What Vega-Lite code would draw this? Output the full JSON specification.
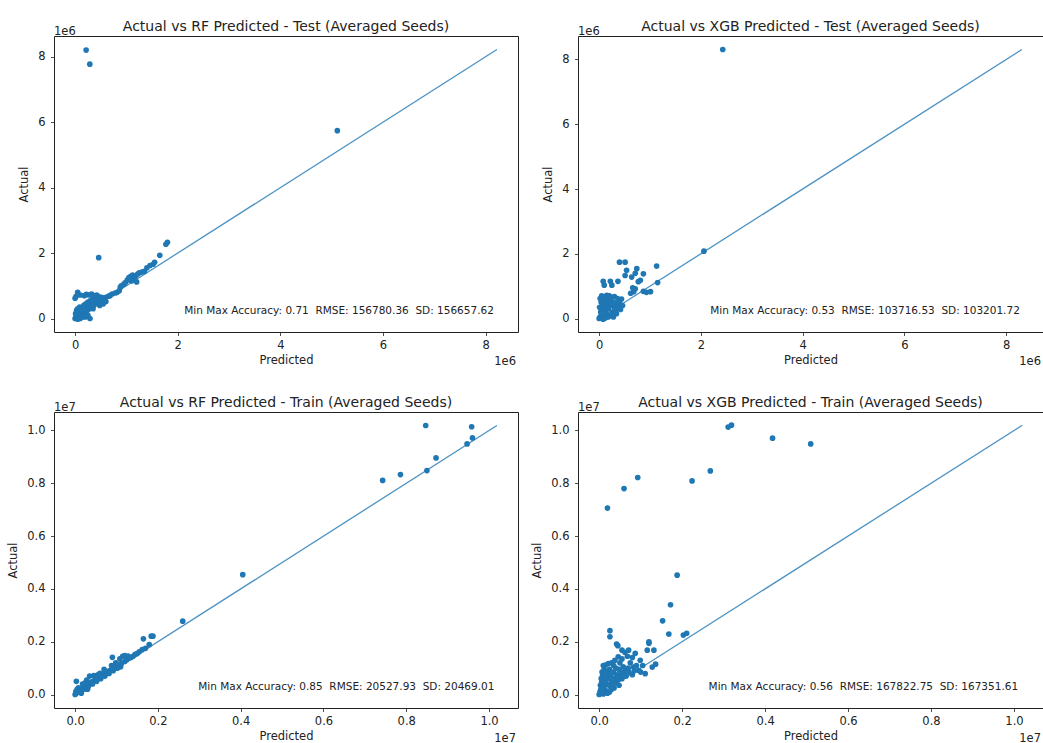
{
  "$schema": "https://vega.github.io/schema/vega-lite/v6.json",
  "background": "white",
  "padding": {"left": 7, "top": 19, "right": 0, "bottom": 0},
  "autosize": {"type": "pad"},
  "bounds": "flush",
  "columns": 2,
  "spacing": {"row": 80, "column": 60},
  "datasets": {
    "rf_test": [
      {"predicted": 215000, "actual": 8200000}, {"predicted": 287000, "actual": 7770000}, {"predicted": 5110000, "actual": 5740000}, {"predicted": 460000, "actual": 1860000},
      {"predicted": 1800000, "actual": 2330000}, {"predicted": 1770000, "actual": 2270000}, {"predicted": 1650000, "actual": 1930000},
      {"predicted": 1550000, "actual": 1720000}, {"predicted": 1520000, "actual": 1660000}, {"predicted": 1460000, "actual": 1620000}, {"predicted": 1400000, "actual": 1550000},
      {"predicted": 1350000, "actual": 1440000}, {"predicted": 1300000, "actual": 1420000}, {"predicted": 1250000, "actual": 1400000}, {"predicted": 1220000, "actual": 1360000},
      {"predicted": 1180000, "actual": 1300000}, {"predicted": 1120000, "actual": 1330000}, {"predicted": 1080000, "actual": 1280000}, {"predicted": 1050000, "actual": 1250000},
      {"predicted": 1150000, "actual": 1200000}, {"predicted": 1200000, "actual": 1120000}, {"predicted": 1100000, "actual": 1150000}, {"predicted": 1020000, "actual": 1180000},
      {"predicted": 980000, "actual": 1100000}, {"predicted": 950000, "actual": 1050000}, {"predicted": 900000, "actual": 1000000}, {"predicted": 880000, "actual": 950000},
      {"predicted": 860000, "actual": 850000}, {"predicted": 820000, "actual": 800000}, {"predicted": 780000, "actual": 780000}, {"predicted": 720000, "actual": 750000},
      {"predicted": 680000, "actual": 700000}, {"predicted": 650000, "actual": 680000}, {"predicted": 600000, "actual": 650000}, {"predicted": 580000, "actual": 620000},
      {"predicted": 550000, "actual": 580000}, {"predicted": 520000, "actual": 650000}, {"predicted": 500000, "actual": 550000}, {"predicted": 480000, "actual": 600000},
      {"predicted": 450000, "actual": 500000}, {"predicted": 420000, "actual": 550000}, {"predicted": 400000, "actual": 450000}, {"predicted": 380000, "actual": 500000},
      {"predicted": 360000, "actual": 400000}, {"predicted": 340000, "actual": 450000}, {"predicted": 320000, "actual": 350000}, {"predicted": 300000, "actual": 420000},
      {"predicted": 280000, "actual": 300000}, {"predicted": 260000, "actual": 380000}, {"predicted": 240000, "actual": 250000}, {"predicted": 220000, "actual": 320000},
      {"predicted": 200000, "actual": 200000}, {"predicted": 180000, "actual": 280000}, {"predicted": 160000, "actual": 150000}, {"predicted": 140000, "actual": 220000},
      {"predicted": 120000, "actual": 100000}, {"predicted": 100000, "actual": 180000}, {"predicted": 80000, "actual": 50000}, {"predicted": 60000, "actual": 120000},
      {"predicted": 40000, "actual": 20000}, {"predicted": 20000, "actual": 80000}, {"predicted": 0, "actual": 0}, {"predicted": 10000, "actual": 150000},
      {"predicted": 30000, "actual": 250000}, {"predicted": 50000, "actual": 300000}, {"predicted": 90000, "actual": 350000}, {"predicted": 130000, "actual": 300000},
      {"predicted": 170000, "actual": 400000}, {"predicted": 210000, "actual": 450000}, {"predicted": 250000, "actual": 500000}, {"predicted": 300000, "actual": 550000},
      {"predicted": 350000, "actual": 600000}, {"predicted": 400000, "actual": 650000}, {"predicted": 450000, "actual": 680000},
      {"predicted": 0, "actual": 620000}, {"predicted": 20000, "actual": 680000}, {"predicted": 50000, "actual": 800000}, {"predicted": 100000, "actual": 720000},
      {"predicted": 180000, "actual": 700000}, {"predicted": 220000, "actual": 740000}, {"predicted": 270000, "actual": 720000}, {"predicted": 320000, "actual": 750000},
      {"predicted": 360000, "actual": 700000}, {"predicted": 420000, "actual": 720000},
      {"predicted": 100000, "actual": 0}, {"predicted": 200000, "actual": 50000}, {"predicted": 290000, "actual": 0}, {"predicted": 250000, "actual": 100000},
      {"predicted": 350000, "actual": 300000}, {"predicted": 150000, "actual": 50000}, {"predicted": 50000, "actual": -20000}, {"predicted": 550000, "actual": 450000},
      {"predicted": 600000, "actual": 520000}, {"predicted": 480000, "actual": 400000}
    ],
    "rf_test_line": [{"predicted": 0, "actual": 0}, {"predicted": 8220000, "actual": 8220000}],
    "rf_test_text": [{"label": "Min Max Accuracy: 0.71 \u00a0RMSE: 156780.36 \u00a0SD: 156657.62"}],
    "xgb_test": [
      {"predicted": 2430000, "actual": 8310000}, {"predicted": 2060000, "actual": 2080000}, {"predicted": 1130000, "actual": 1620000}, {"predicted": 1150000, "actual": 1110000},
      {"predicted": 400000, "actual": 1740000}, {"predicted": 510000, "actual": 1740000}, {"predicted": 540000, "actual": 1490000}, {"predicted": 510000, "actual": 1330000},
      {"predicted": 740000, "actual": 1540000}, {"predicted": 710000, "actual": 1400000}, {"predicted": 870000, "actual": 1380000}, {"predicted": 810000, "actual": 1180000},
      {"predicted": 770000, "actual": 1140000}, {"predicted": 640000, "actual": 1280000}, {"predicted": 80000, "actual": 1150000}, {"predicted": 100000, "actual": 1030000},
      {"predicted": 220000, "actual": 1150000}, {"predicted": 250000, "actual": 1030000}, {"predicted": 370000, "actual": 1150000}, {"predicted": 710000, "actual": 920000},
      {"predicted": 680000, "actual": 830000}, {"predicted": 620000, "actual": 780000}, {"predicted": 870000, "actual": 840000}, {"predicted": 930000, "actual": 810000},
      {"predicted": 1010000, "actual": 830000}, {"predicted": 660000, "actual": 950000},
      {"predicted": 0, "actual": 0}, {"predicted": 20000, "actual": 50000}, {"predicted": 50000, "actual": 100000}, {"predicted": 30000, "actual": 200000},
      {"predicted": 60000, "actual": 300000}, {"predicted": 10000, "actual": 350000}, {"predicted": 80000, "actual": 400000}, {"predicted": 40000, "actual": 500000},
      {"predicted": 20000, "actual": 620000}, {"predicted": 100000, "actual": 620000}, {"predicted": 120000, "actual": 550000}, {"predicted": 150000, "actual": 450000},
      {"predicted": 100000, "actual": 250000}, {"predicted": 140000, "actual": 150000}, {"predicted": 180000, "actual": 300000}, {"predicted": 200000, "actual": 400000},
      {"predicted": 220000, "actual": 550000}, {"predicted": 250000, "actual": 650000}, {"predicted": 280000, "actual": 500000}, {"predicted": 300000, "actual": 350000},
      {"predicted": 320000, "actual": 250000}, {"predicted": 350000, "actual": 450000}, {"predicted": 380000, "actual": 550000}, {"predicted": 400000, "actual": 350000},
      {"predicted": 420000, "actual": 280000}, {"predicted": 440000, "actual": 600000}, {"predicted": 300000, "actual": 680000}, {"predicted": 200000, "actual": 700000},
      {"predicted": 150000, "actual": 720000}, {"predicted": 260000, "actual": 200000}, {"predicted": 220000, "actual": 100000}, {"predicted": 180000, "actual": 50000},
      {"predicted": 120000, "actual": 20000}, {"predicted": 80000, "actual": -20000}, {"predicted": 280000, "actual": 50000}, {"predicted": 360000, "actual": 620000},
      {"predicted": 50000, "actual": 700000}, {"predicted": 160000, "actual": 620000}, {"predicted": 240000, "actual": 400000}, {"predicted": 340000, "actual": 150000},
      {"predicted": 400000, "actual": 500000}, {"predicted": 460000, "actual": 400000}, {"predicted": 120000, "actual": 350000}, {"predicted": 60000, "actual": 150000}
    ],
    "xgb_test_line": [{"predicted": 0, "actual": 0}, {"predicted": 8310000, "actual": 8310000}],
    "xgb_test_text": [{"label": "Min Max Accuracy: 0.53 \u00a0RMSE: 103716.53 \u00a0SD: 103201.72"}],
    "rf_train": [
      {"predicted": 8470000, "actual": 10190000}, {"predicted": 9580000, "actual": 10140000}, {"predicted": 9600000, "actual": 9720000}, {"predicted": 9470000, "actual": 9490000},
      {"predicted": 8720000, "actual": 8960000}, {"predicted": 8500000, "actual": 8480000}, {"predicted": 7860000, "actual": 8330000}, {"predicted": 7430000, "actual": 8110000},
      {"predicted": 4050000, "actual": 4540000}, {"predicted": 2600000, "actual": 2780000}, {"predicted": 1840000, "actual": 2210000}, {"predicted": 1880000, "actual": 2210000},
      {"predicted": 1650000, "actual": 2110000}, {"predicted": 1790000, "actual": 1890000}, {"predicted": 900000, "actual": 1410000}, {"predicted": 30000, "actual": 500000},
      {"predicted": 1700000, "actual": 1750000}, {"predicted": 1620000, "actual": 1700000}, {"predicted": 1550000, "actual": 1620000}, {"predicted": 1500000, "actual": 1550000},
      {"predicted": 1450000, "actual": 1520000}, {"predicted": 1400000, "actual": 1450000}, {"predicted": 1350000, "actual": 1400000}, {"predicted": 1300000, "actual": 1380000},
      {"predicted": 1250000, "actual": 1320000}, {"predicted": 1200000, "actual": 1480000}, {"predicted": 1150000, "actual": 1450000}, {"predicted": 1280000, "actual": 1460000},
      {"predicted": 1200000, "actual": 1250000}, {"predicted": 1120000, "actual": 1180000}, {"predicted": 1050000, "actual": 1120000}, {"predicted": 1000000, "actual": 1080000},
      {"predicted": 950000, "actual": 1020000}, {"predicted": 900000, "actual": 980000}, {"predicted": 850000, "actual": 920000}, {"predicted": 800000, "actual": 880000},
      {"predicted": 750000, "actual": 820000}, {"predicted": 700000, "actual": 950000}, {"predicted": 700000, "actual": 780000}, {"predicted": 650000, "actual": 720000},
      {"predicted": 600000, "actual": 680000}, {"predicted": 550000, "actual": 620000}, {"predicted": 500000, "actual": 580000}, {"predicted": 450000, "actual": 720000},
      {"predicted": 450000, "actual": 520000}, {"predicted": 400000, "actual": 480000}, {"predicted": 350000, "actual": 700000}, {"predicted": 350000, "actual": 420000},
      {"predicted": 300000, "actual": 380000}, {"predicted": 280000, "actual": 550000}, {"predicted": 250000, "actual": 320000}, {"predicted": 200000, "actual": 280000},
      {"predicted": 180000, "actual": 400000}, {"predicted": 150000, "actual": 220000}, {"predicted": 100000, "actual": 150000}, {"predicted": 80000, "actual": 250000},
      {"predicted": 50000, "actual": 80000}, {"predicted": 20000, "actual": 40000}, {"predicted": 0, "actual": 0}, {"predicted": 120000, "actual": 100000},
      {"predicted": 220000, "actual": 200000}, {"predicted": 320000, "actual": 300000}, {"predicted": 420000, "actual": 400000}, {"predicted": 520000, "actual": 500000},
      {"predicted": 620000, "actual": 600000}, {"predicted": 720000, "actual": 700000}, {"predicted": 820000, "actual": 800000}, {"predicted": 920000, "actual": 900000},
      {"predicted": 1020000, "actual": 1000000}, {"predicted": 1100000, "actual": 1050000}, {"predicted": 550000, "actual": 750000}, {"predicted": 600000, "actual": 800000},
      {"predicted": 880000, "actual": 1100000}, {"predicted": 980000, "actual": 1200000}, {"predicted": 1080000, "actual": 1350000}, {"predicted": 150000, "actual": 50000},
      {"predicted": 300000, "actual": 200000}, {"predicted": 50000, "actual": 200000}, {"predicted": 20000, "actual": 120000}, {"predicted": 250000, "actual": 450000}
    ],
    "rf_train_line": [{"predicted": 0, "actual": 0}, {"predicted": 10190000, "actual": 10190000}],
    "rf_train_text": [{"label": "Min Max Accuracy: 0.85 \u00a0RMSE: 20527.93 \u00a0SD: 20469.01"}],
    "xgb_train": [
      {"predicted": 3110000, "actual": 10130000}, {"predicted": 3190000, "actual": 10200000}, {"predicted": 4180000, "actual": 9710000}, {"predicted": 5100000, "actual": 9490000},
      {"predicted": 2680000, "actual": 8470000}, {"predicted": 2240000, "actual": 8090000}, {"predicted": 930000, "actual": 8220000}, {"predicted": 600000, "actual": 7800000},
      {"predicted": 200000, "actual": 7060000}, {"predicted": 1880000, "actual": 4520000}, {"predicted": 1720000, "actual": 3400000}, {"predicted": 1530000, "actual": 2790000},
      {"predicted": 1680000, "actual": 2290000}, {"predicted": 2030000, "actual": 2250000}, {"predicted": 2110000, "actual": 2320000}, {"predicted": 260000, "actual": 2420000},
      {"predicted": 260000, "actual": 2190000}, {"predicted": 1200000, "actual": 1940000},
      {"predicted": 420000, "actual": 1910000}, {"predicted": 450000, "actual": 1850000}, {"predicted": 1200000, "actual": 2000000}, {"predicted": 1160000, "actual": 1680000},
      {"predicted": 1320000, "actual": 1680000}, {"predicted": 1280000, "actual": 1040000}, {"predicted": 1360000, "actual": 1150000}, {"predicted": 1110000, "actual": 790000},
      {"predicted": 870000, "actual": 1560000}, {"predicted": 710000, "actual": 1680000}, {"predicted": 550000, "actual": 1680000}, {"predicted": 620000, "actual": 1600000},
      {"predicted": 460000, "actual": 1430000}, {"predicted": 380000, "actual": 1300000}, {"predicted": 220000, "actual": 1170000}, {"predicted": 100000, "actual": 1100000},
      {"predicted": 150000, "actual": 1120000}, {"predicted": 630000, "actual": 920000}, {"predicted": 830000, "actual": 1040000}, {"predicted": 950000, "actual": 920000},
      {"predicted": 990000, "actual": 1300000}, {"predicted": 800000, "actual": 1400000}, {"predicted": 750000, "actual": 1200000}, {"predicted": 680000, "actual": 1450000},
      {"predicted": 900000, "actual": 1100000}, {"predicted": 1050000, "actual": 1100000}, {"predicted": 1000000, "actual": 850000}, {"predicted": 550000, "actual": 1350000},
      {"predicted": 500000, "actual": 1200000}, {"predicted": 580000, "actual": 1050000}, {"predicted": 700000, "actual": 1000000}, {"predicted": 480000, "actual": 950000},
      {"predicted": 400000, "actual": 1000000}, {"predicted": 350000, "actual": 1100000}, {"predicted": 300000, "actual": 1200000},
      {"predicted": 0, "actual": 0}, {"predicted": 20000, "actual": 100000}, {"predicted": 40000, "actual": 200000}, {"predicted": 30000, "actual": 350000},
      {"predicted": 60000, "actual": 450000}, {"predicted": 50000, "actual": 600000}, {"predicted": 80000, "actual": 700000}, {"predicted": 70000, "actual": 850000},
      {"predicted": 120000, "actual": 950000}, {"predicted": 100000, "actual": 500000}, {"predicted": 120000, "actual": 300000}, {"predicted": 150000, "actual": 150000},
      {"predicted": 180000, "actual": 400000}, {"predicted": 200000, "actual": 600000}, {"predicted": 220000, "actual": 800000}, {"predicted": 250000, "actual": 950000},
      {"predicted": 280000, "actual": 700000}, {"predicted": 300000, "actual": 500000}, {"predicted": 330000, "actual": 300000}, {"predicted": 350000, "actual": 850000},
      {"predicted": 380000, "actual": 600000}, {"predicted": 400000, "actual": 450000}, {"predicted": 420000, "actual": 750000}, {"predicted": 450000, "actual": 550000},
      {"predicted": 480000, "actual": 350000}, {"predicted": 500000, "actual": 700000}, {"predicted": 520000, "actual": 850000}, {"predicted": 300000, "actual": 200000},
      {"predicted": 250000, "actual": 100000}, {"predicted": 200000, "actual": 50000}, {"predicted": 100000, "actual": 20000}, {"predicted": 150000, "actual": 700000},
      {"predicted": 180000, "actual": 850000}, {"predicted": 50000, "actual": 50000}, {"predicted": 80000, "actual": 150000}, {"predicted": 140000, "actual": 500000},
      {"predicted": 240000, "actual": 350000}, {"predicted": 360000, "actual": 250000}, {"predicted": 550000, "actual": 600000}, {"predicted": 600000, "actual": 800000},
      {"predicted": 650000, "actual": 700000}, {"predicted": 720000, "actual": 850000}, {"predicted": 800000, "actual": 750000}, {"predicted": 850000, "actual": 900000}
    ],
    "xgb_train_line": [{"predicted": 0, "actual": 0}, {"predicted": 10200000, "actual": 10200000}],
    "xgb_train_text": [{"label": "Min Max Accuracy: 0.56 \u00a0RMSE: 167822.75 \u00a0SD: 167351.61"}],
    "e6": [{"label": "1e6"}],
    "e7": [{"label": "1e7"}]
  },
  "concat": [
    {
      "width": 464, "height": 296,
      "title": "Actual vs RF Predicted - Test (Averaged Seeds)",
      "layer": [
        {
          "data": {"name": "rf_test"},
          "mark": {"type": "circle", "size": 32, "opacity": 1, "color": "#1f77b4"},
          "encoding": {
            "x": {"field": "predicted", "type": "quantitative", "scale": {"domain": [-411000, 8631000], "nice": false, "zero": false}, "axis": {"values": [0, 2000000, 4000000, 6000000, 8000000], "labelExpr": "format(datum.value/1000000, 'd')", "title": "Predicted"}},
            "y": {"field": "actual", "type": "quantitative", "scale": {"domain": [-411000, 8631000], "nice": false, "zero": false}, "axis": {"values": [0, 2000000, 4000000, 6000000, 8000000], "labelExpr": "format(datum.value/1000000, 'd')", "title": "Actual"}}
          }
        },
        {
          "data": {"name": "rf_test_line"},
          "mark": {"type": "line", "color": "#1f77b4", "strokeWidth": 1.3, "opacity": 0.8},
          "encoding": {"x": {"field": "predicted", "type": "quantitative"}, "y": {"field": "actual", "type": "quantitative"}}
        },
        {
          "data": {"name": "rf_test_text"},
          "mark": {"type": "text", "align": "right", "baseline": "middle", "fontSize": 10.5, "color": "#222"},
          "encoding": {"text": {"field": "label"}, "x": {"datum": 8160000, "type": "quantitative"}, "y": {"datum": 244000, "type": "quantitative"}}
        },
        {
          "data": {"name": "e6"},
          "mark": {"type": "text", "align": "left", "baseline": "alphabetic", "fontSize": 11.5, "color": "#222", "dy": -1},
          "encoding": {"text": {"field": "label"}, "x": {"datum": -411000, "type": "quantitative"}, "y": {"datum": 8631000, "type": "quantitative"}}
        },
        {
          "data": {"name": "e6"},
          "mark": {"type": "text", "align": "right", "baseline": "alphabetic", "fontSize": 11.5, "color": "#222", "dy": 33, "dx": -2},
          "encoding": {"text": {"field": "label"}, "x": {"datum": 8631000, "type": "quantitative"}, "y": {"datum": -411000, "type": "quantitative"}}
        }
      ]
    },
    {
      "width": 465, "height": 296,
      "title": "Actual vs XGB Predicted - Test (Averaged Seeds)",
      "layer": [
        {
          "data": {"name": "xgb_test"},
          "mark": {"type": "circle", "size": 32, "opacity": 1, "color": "#1f77b4"},
          "encoding": {
            "x": {"field": "predicted", "type": "quantitative", "scale": {"domain": [-415500, 8725500], "nice": false, "zero": false}, "axis": {"values": [0, 2000000, 4000000, 6000000, 8000000], "labelExpr": "format(datum.value/1000000, 'd')", "title": "Predicted"}},
            "y": {"field": "actual", "type": "quantitative", "scale": {"domain": [-415500, 8725500], "nice": false, "zero": false}, "axis": {"values": [0, 2000000, 4000000, 6000000, 8000000], "labelExpr": "format(datum.value/1000000, 'd')", "title": "Actual"}}
          }
        },
        {
          "data": {"name": "xgb_test_line"},
          "mark": {"type": "line", "color": "#1f77b4", "strokeWidth": 1.3, "opacity": 0.8},
          "encoding": {"x": {"field": "predicted", "type": "quantitative"}, "y": {"field": "actual", "type": "quantitative"}}
        },
        {
          "data": {"name": "xgb_test_text"},
          "mark": {"type": "text", "align": "right", "baseline": "middle", "fontSize": 10.5, "color": "#222"},
          "encoding": {"text": {"field": "label"}, "x": {"datum": 8270000, "type": "quantitative"}, "y": {"datum": 225000, "type": "quantitative"}}
        },
        {
          "data": {"name": "e6"},
          "mark": {"type": "text", "align": "left", "baseline": "alphabetic", "fontSize": 11.5, "color": "#222", "dy": -1},
          "encoding": {"text": {"field": "label"}, "x": {"datum": -415500, "type": "quantitative"}, "y": {"datum": 8725500, "type": "quantitative"}}
        },
        {
          "data": {"name": "e6"},
          "mark": {"type": "text", "align": "right", "baseline": "alphabetic", "fontSize": 11.5, "color": "#222", "dy": 33, "dx": -2},
          "encoding": {"text": {"field": "label"}, "x": {"datum": 8725500, "type": "quantitative"}, "y": {"datum": -415500, "type": "quantitative"}}
        }
      ]
    },
    {
      "width": 464, "height": 296,
      "title": "Actual vs RF Predicted - Train (Averaged Seeds)",
      "layer": [
        {
          "data": {"name": "rf_train"},
          "mark": {"type": "circle", "size": 32, "opacity": 1, "color": "#1f77b4"},
          "encoding": {
            "x": {"field": "predicted", "type": "quantitative", "scale": {"domain": [-510000, 10700000], "nice": false, "zero": false}, "axis": {"values": [0, 2000000, 4000000, 6000000, 8000000, 10000000], "labelExpr": "format(datum.value/10000000, '.1f')", "title": "Predicted"}},
            "y": {"field": "actual", "type": "quantitative", "scale": {"domain": [-510000, 10700000], "nice": false, "zero": false}, "axis": {"values": [0, 2000000, 4000000, 6000000, 8000000, 10000000], "labelExpr": "format(datum.value/10000000, '.1f')", "title": "Actual"}}
          }
        },
        {
          "data": {"name": "rf_train_line"},
          "mark": {"type": "line", "color": "#1f77b4", "strokeWidth": 1.3, "opacity": 0.8},
          "encoding": {"x": {"field": "predicted", "type": "quantitative"}, "y": {"field": "actual", "type": "quantitative"}}
        },
        {
          "data": {"name": "rf_train_text"},
          "mark": {"type": "text", "align": "right", "baseline": "middle", "fontSize": 10.5, "color": "#222"},
          "encoding": {"text": {"field": "label"}, "x": {"datum": 10130000, "type": "quantitative"}, "y": {"datum": 290000, "type": "quantitative"}}
        },
        {
          "data": {"name": "e7"},
          "mark": {"type": "text", "align": "left", "baseline": "alphabetic", "fontSize": 11.5, "color": "#222", "dy": -1},
          "encoding": {"text": {"field": "label"}, "x": {"datum": -510000, "type": "quantitative"}, "y": {"datum": 10700000, "type": "quantitative"}}
        },
        {
          "data": {"name": "e7"},
          "mark": {"type": "text", "align": "right", "baseline": "alphabetic", "fontSize": 11.5, "color": "#222", "dy": 34, "dx": -2},
          "encoding": {"text": {"field": "label"}, "x": {"datum": 10700000, "type": "quantitative"}, "y": {"datum": -510000, "type": "quantitative"}}
        }
      ]
    },
    {
      "width": 465, "height": 296,
      "title": "Actual vs XGB Predicted - Train (Averaged Seeds)",
      "layer": [
        {
          "data": {"name": "xgb_train"},
          "mark": {"type": "circle", "size": 32, "opacity": 1, "color": "#1f77b4"},
          "encoding": {
            "x": {"field": "predicted", "type": "quantitative", "scale": {"domain": [-510000, 10700000], "nice": false, "zero": false}, "axis": {"values": [0, 2000000, 4000000, 6000000, 8000000, 10000000], "labelExpr": "format(datum.value/10000000, '.1f')", "title": "Predicted"}},
            "y": {"field": "actual", "type": "quantitative", "scale": {"domain": [-510000, 10700000], "nice": false, "zero": false}, "axis": {"values": [0, 2000000, 4000000, 6000000, 8000000, 10000000], "labelExpr": "format(datum.value/10000000, '.1f')", "title": "Actual"}}
          }
        },
        {
          "data": {"name": "xgb_train_line"},
          "mark": {"type": "line", "color": "#1f77b4", "strokeWidth": 1.3, "opacity": 0.8},
          "encoding": {"x": {"field": "predicted", "type": "quantitative"}, "y": {"field": "actual", "type": "quantitative"}}
        },
        {
          "data": {"name": "xgb_train_text"},
          "mark": {"type": "text", "align": "right", "baseline": "middle", "fontSize": 10.5, "color": "#222"},
          "encoding": {"text": {"field": "label"}, "x": {"datum": 10100000, "type": "quantitative"}, "y": {"datum": 280000, "type": "quantitative"}}
        },
        {
          "data": {"name": "e7"},
          "mark": {"type": "text", "align": "left", "baseline": "alphabetic", "fontSize": 11.5, "color": "#222", "dy": -1},
          "encoding": {"text": {"field": "label"}, "x": {"datum": -510000, "type": "quantitative"}, "y": {"datum": 10700000, "type": "quantitative"}}
        },
        {
          "data": {"name": "e7"},
          "mark": {"type": "text", "align": "right", "baseline": "alphabetic", "fontSize": 11.5, "color": "#222", "dy": 34, "dx": -2},
          "encoding": {"text": {"field": "label"}, "x": {"datum": 10700000, "type": "quantitative"}, "y": {"datum": -510000, "type": "quantitative"}}
        }
      ]
    }
  ],
  "config": {
    "font": "DejaVu Sans",
    "view": {"stroke": "#222", "strokeWidth": 1},
    "axis": {
      "grid": false, "domain": false,
      "tickColor": "#222", "tickSize": 3.5, "tickWidth": 0.8,
      "labelFont": "DejaVu Sans", "labelFontSize": 11.5, "labelColor": "#222", "labelPadding": 5.5,
      "titleFont": "DejaVu Sans", "titleFontSize": 11.5, "titleFontWeight": "normal", "titleColor": "#222", "titlePadding": 8
    },
    "axisX": {"labelPadding": 3.5, "titlePadding": 4},
    "title": {"font": "DejaVu Sans", "fontSize": 14, "fontWeight": "normal", "color": "#222", "offset": -8, "frame": "group"}
  }
}
